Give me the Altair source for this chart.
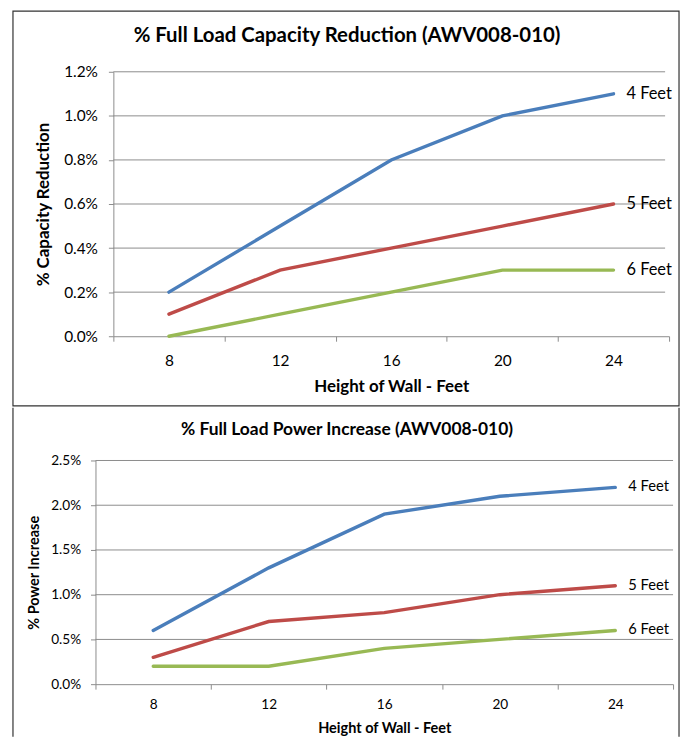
import altair as alt
import pandas as pd

heights = [8, 12, 16, 20, 24]
series = ["4 Feet", "5 Feet", "6 Feet"]
colors = ["#4A7EBB", "#BE4B48", "#98B954"]

cap_4 = [0.2, 0.5, 0.8, 1.0, 1.1]
cap_5 = [0.1, 0.3, 0.4, 0.5, 0.6]
cap_6 = [0.0, 0.1, 0.2, 0.3, 0.3]

pow_4 = [0.6, 1.3, 1.9, 2.1, 2.2]
pow_5 = [0.3, 0.7, 0.8, 1.0, 1.1]
pow_6 = [0.2, 0.2, 0.4, 0.5, 0.6]

cap_ticks = [0.0, 0.2, 0.4, 0.6, 0.8, 1.0, 1.2]
pow_ticks = [0.0, 0.5, 1.0, 1.5, 2.0, 2.5]

FONT = "Lato"
GRID = "#8C8C8C"
BORDER = "#333333"


def frame(values):
    rows = []
    for s, vals in zip(series, values):
        for h, v in zip(heights, vals):
            rows.append({"height": h, "series": s, "value": v})
    return pd.DataFrame(rows)


def panel(df, w, h, xr, ticks, title, ytitle, sizes, pads, grid_x, y_off):
    tfs, lfs, afs, nfs = sizes
    lab_pad, ytitle_pad, xlab_pad, xtitle_pad = pads
    x_enc = alt.X(
        "height:O",
        scale=alt.Scale(type="band", paddingInner=0, paddingOuter=0, range=xr),
        axis=alt.Axis(
            title="Height of Wall - Feet",
            tickBand="extent",
            labelAngle=0,
            labelFontSize=lfs,
            titleFontSize=afs,
            labelPadding=xlab_pad,
            titlePadding=xtitle_pad,
            grid=False,
            tickSize=5,
        ),
    )
    y_enc = alt.Y(
        "value:Q",
        scale=alt.Scale(domain=[ticks[0], ticks[-1]], nice=False),
        axis=alt.Axis(
            title=ytitle,
            values=ticks,
            labelExpr="format(datum.value, '.1f') + '%'",
            labelFontSize=lfs,
            titleFontSize=afs,
            labelPadding=lab_pad,
            titlePadding=ytitle_pad,
            grid=False,
            tickSize=5,
            offset=y_off,
        ),
    )
    grid = alt.Chart(pd.DataFrame({"value": ticks[1:]})).mark_rule(
        color=GRID, strokeWidth=1
    ).encode(y=y_enc, x=alt.value(grid_x[0]), x2=alt.value(grid_x[1]))
    base = alt.Chart(df).encode(x=x_enc, y=y_enc)
    lines = base.mark_line(strokeWidth=3.4, strokeCap="round").encode(
        color=alt.Color(
            "series:N",
            scale=alt.Scale(domain=series, range=colors),
            legend=None,
        )
    )
    labels = (
        base.mark_text(align="left", baseline="middle", dx=13, font=FONT, fontSize=nfs, color="#000000")
        .encode(text="series:N")
        .transform_filter(alt.datum.height == heights[-1])
    )
    ttl = alt.Chart(pd.DataFrame({"t": [title]})).mark_text(
        font=FONT, fontSize=tfs, fontWeight="bold", align="center", baseline="middle", color="#000000"
    ).encode(text="t:N", x=alt.value(253), y=alt.value(-36 if tfs > 18 else -31))
    return [grid, ttl, lines, labels]


one = pd.DataFrame({"k": [0]})

top_layers = panel(
    frame([cap_4, cap_5, cap_6]), 577, 266, [18, 577], cap_ticks,
    "% Full Load Capacity Reduction (AWV008-010)", "% Capacity Reduction",
    (20.5, 15.5, 17, 16.5), (11, 11, 12, 10), (18, 573), -18,
)
top_box = alt.Chart(one).mark_rect(fill="transparent", stroke=BORDER, strokeWidth=1.2).encode(
    x=alt.value(-83), x2=alt.value(587), y=alt.value(-61), y2=alt.value(336)
)
top = alt.layer(top_box, *top_layers).properties(width=577, height=266)

bottom_layers = panel(
    frame([pow_4, pow_5, pow_6]), 581, 225, [0, 581], pow_ticks,
    "% Full Load Power Increase (AWV008-010)", "% Power Increase",
    (17.5, 13.7, 14.6, 14.8), (10, 9, 8, 10), (0, 581), 0,
)
left_side = alt.Chart(one).mark_rule(color=BORDER, strokeWidth=1.2).encode(
    x=alt.value(-83), y=alt.value(-53), y2=alt.value(278)
)
right_side = alt.Chart(one).mark_rule(color=BORDER, strokeWidth=1.2).encode(
    x=alt.value(587), y=alt.value(-53), y2=alt.value(278)
)
bottom = alt.layer(left_side, right_side, *bottom_layers).properties(width=581, height=225)

chart = (
    alt.vconcat(top, bottom, spacing=0)
    .properties(padding={"left": 4, "top": 0, "right": 2, "bottom": 0}, background="#FFFFFF")
    .configure_view(stroke=None)
    .configure_axis(
        labelFont=FONT,
        titleFont=FONT,
        labelColor="#000000",
        titleColor="#000000",
        titleFontWeight="bold",
        domainColor=GRID,
        domainWidth=1,
        tickColor=GRID,
        tickWidth=1,
    )
)

chart.save("out.html", embed_options={"renderer": "svg", "actions": False})
